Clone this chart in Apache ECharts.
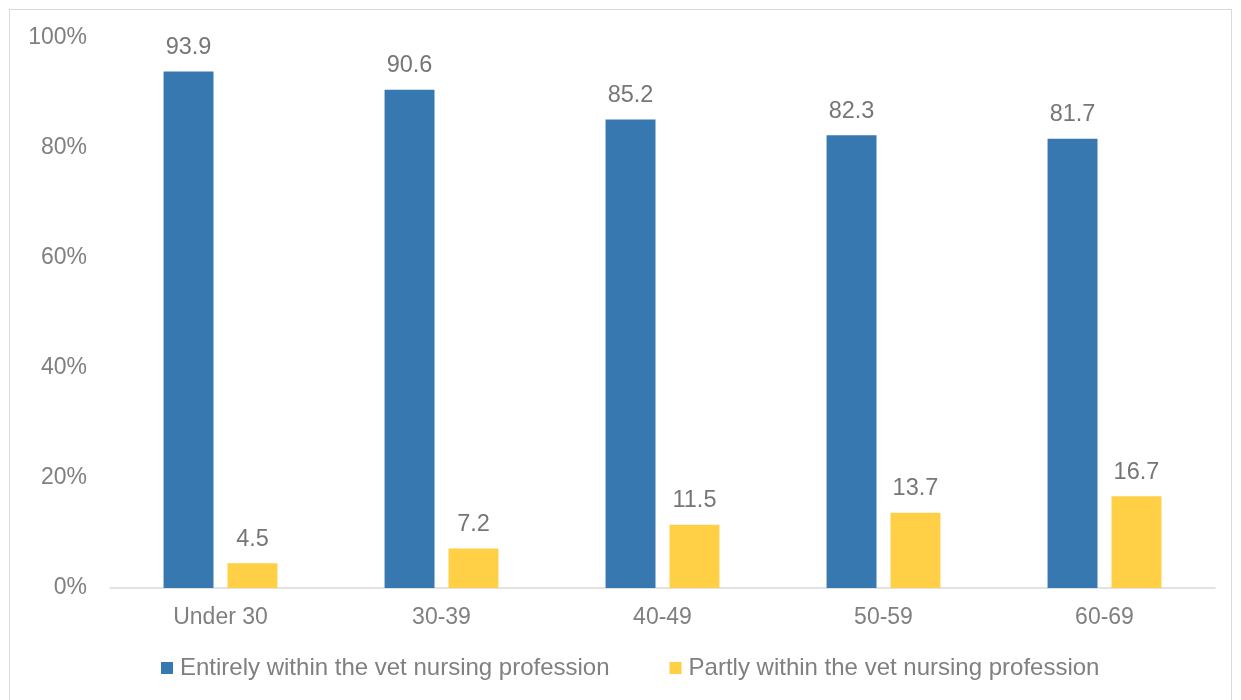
<!DOCTYPE html>
<html>
<head>
<meta charset="utf-8">
<script src="https://cdn.jsdelivr.net/npm/echarts@6/dist/echarts.min.js"></script>
<style>
  html, body { margin: 0; padding: 0; background: #fff; }
  #frame { position: absolute; left: 9px; top: 9px; width: 1223px; height: 700px; border: 1.5px solid #d9d9d9; box-sizing: border-box; }
  #chart { width: 1241px; height: 700px; }
</style>
</head>
<body>
<div id="frame"></div>
<div id="chart"></div>
<script>
// Age groups and share (%) of working time spent in vet nursing
const ageGroups = ['Under 30', '30-39', '40-49', '50-59', '60-69'];
const entirelyWithin = [93.9, 90.6, 85.2, 82.3, 81.7];
const partlyWithin = [4.5, 7.2, 11.5, 13.7, 16.7];
const seriesNames = ['Entirely within the vet nursing profession', 'Partly within the vet nursing profession'];

const fontFamily = '"Liberation Sans", Arial, sans-serif';
const chart = echarts.init(document.getElementById('chart'), null, { renderer: 'canvas' });

const labelStyle = {
  show: true,
  position: 'top',
  distance: 12,
  color: '#767676',
  fontSize: 23.5,
  fontFamily: fontFamily,
  formatter: p => p.value.toFixed(1)
};

chart.setOption({
  animation: false,
  color: ['#3878b0', '#ffcf46'],
  grid: { left: 110, right: 26, top: 38, bottom: 112, containLabel: false },
  legend: {
    data: seriesNames,
    bottom: 15,
    left: 156,
    itemWidth: 12,
    itemHeight: 12,
    itemGap: 60,
    icon: 'rect',
    textStyle: { color: '#808080', fontSize: 24, fontFamily: fontFamily, padding: [0, 0, 0, 2] }
  },
  xAxis: {
    type: 'category',
    data: ageGroups,
    axisLine: { lineStyle: { color: '#d9d9d9', width: 1.5 } },
    axisTick: { show: false },
    axisLabel: { color: '#808080', fontSize: 23, fontFamily: fontFamily, margin: 18 }
  },
  yAxis: {
    type: 'value',
    min: 0,
    max: 100,
    interval: 20,
    axisLine: { show: false },
    axisTick: { show: false },
    splitLine: { show: false },
    axisLabel: { color: '#808080', fontSize: 23, fontFamily: fontFamily, margin: 23, formatter: '{value}%' }
  },
  series: [
    {
      name: seriesNames[0],
      type: 'bar',
      data: entirelyWithin,
      barWidth: '22.6%',
      barGap: '28%',
      label: labelStyle
    },
    {
      name: seriesNames[1],
      type: 'bar',
      data: partlyWithin,
      barWidth: '22.6%',
      label: labelStyle
    }
  ]
});
</script>
</body>
</html>
